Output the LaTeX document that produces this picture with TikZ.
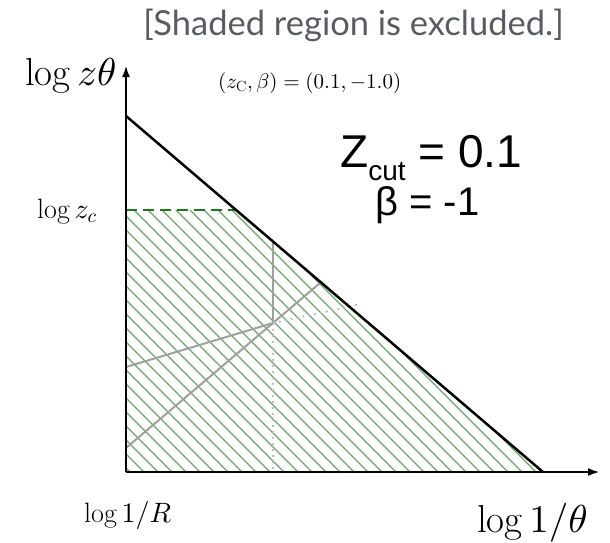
\documentclass[tikz,border=0pt]{standalone}
\usepackage{fontspec}
\DeclareFontShape{OML}{cmm}{m}{it}{<->cmmi10}{}
\DeclareFontShape{OMS}{cmsy}{m}{n}{<->cmsy10}{}
\DeclareFontShape{OT1}{cmr}{m}{n}{<->cmr10}{}
\DeclareFontShape{OMX}{cmex}{m}{n}{<->cmex10}{}
\newfontfamily\arialf{Liberation Sans}
\newfontfamily\gillf{Lato}
\usetikzlibrary{arrows.meta}
\definecolor{hatchgreen}{RGB}{110,165,110}
\definecolor{dashgreen}{RGB}{30,120,30}
\definecolor{titlegray}{RGB}{88,92,98}
\definecolor{linegray}{RGB}{160,160,160}
\definecolor{dotgray}{RGB}{190,190,190}
\tikzset{
  axisline/.style={line width=2.6pt,-{Latex[length=12pt,width=8pt]}},
  bound/.style={line width=2.5pt, line cap=round},
  hatchline/.style={hatchgreen, line width=1.3pt},
  zcdash/.style={dashgreen, line width=2.2pt, dash pattern=on 11pt off 6pt},
  grayline/.style={linegray, line width=2pt},
  graydot/.style={dotgray, line width=2pt, dash pattern=on 2pt off 4pt},
  lbl/.style={anchor=base west, inner sep=0pt},
}
\begin{document}
\begin{tikzpicture}[x=1pt,y=-1pt]
\useasboundingbox (0,0) rectangle (610,542);
% key points
\coordinate (O) at (126,472);
\coordinate (Ytip) at (126,65);
\coordinate (Xtip) at (600,472);
\coordinate (A) at (126,116);
\coordinate (B) at (543,472);
\coordinate (Zc) at (126,210);
\coordinate (Zd) at (237,210);
\coordinate (J) at (273,323);
\coordinate (Jt) at (273,242);
\coordinate (Jb) at (273,472);
\coordinate (L1) at (126,367);
\coordinate (L2) at (126,448);
\coordinate (D) at (320,283);
\coordinate (Dd) at (357,305);
% hatching
\begin{scope}
  \clip (Zc) -- (Zd) -- (B) -- (O) -- cycle;
  \foreach \c in {-356,-342,...,100}
    \draw[hatchline] (\c+50,50) -- (\c+550,550);
\end{scope}
% gray construction lines
\draw[grayline] (Jt) -- (J);
\draw[graydot] (J) -- (Jb);
\draw[grayline] (L1) -- (J);
\draw[grayline] (L2) -- (D);
\draw[graydot] (J) -- (Dd);
% z_c dashed line
\draw[zcdash] (Zc) -- (Zd);
% boundary diagonal
\draw[bound] (A) -- (B);
% axes
\draw[axisline] (O) -- (Ytip);
\draw[axisline] (O) -- (Xtip);
% texts
\node[anchor=base, text=titlegray, inner sep=0pt] (title) at (353.5,35)
  {\gillf\fontsize{34.5}{34.5}\selectfont [Shaded region is excluded.]};
\node[lbl] (ylab) at (25,85) {\fontsize{39}{39}\selectfont $\log z\theta$};
\node[lbl] (params) at (218,88) {\fontsize{21}{21}\selectfont $(z_{\mathrm{C}},\beta)=(0.1,-1.0)$};
\node[lbl] (zcut) at (340,167) {\arialf\fontsize{46}{46}\selectfont Z\raisebox{-13pt}{\fontsize{28}{28}\selectfont cut} = 0.1};
\node[lbl] (beta) at (375,215) {\arialf\fontsize{40}{40}\selectfont β = -1};
\node[lbl] (zclab) at (37,218) {\fontsize{28}{28}\selectfont $\log z_c$};
\node[lbl] (rlab) at (84,522) {\fontsize{28}{28}\selectfont $\log 1/R$};
\node[lbl] (xlab) at (477,532) {\fontsize{39}{39}\selectfont $\log 1/\theta$};
\end{tikzpicture}
\end{document}
